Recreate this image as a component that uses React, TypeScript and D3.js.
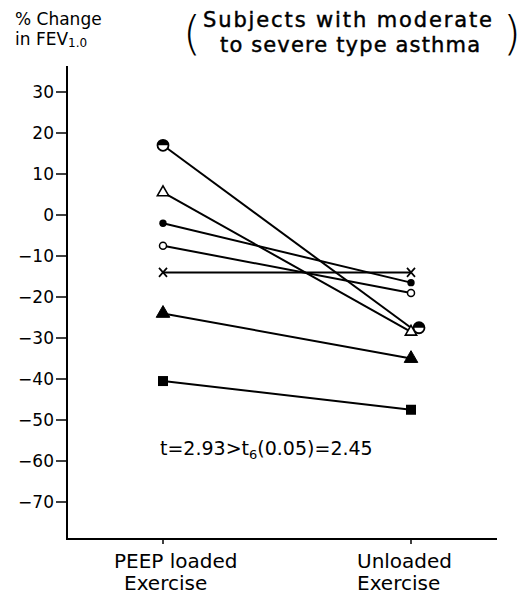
import React, { useEffect, useRef } from "react";
import * as d3 from "d3";

// conditions on the x axis
const conditions = ["PEEP loaded", "Unloaded"];
const conditionLabels = [
  ["PEEP loaded", "Exercise"],
  ["Unloaded", "Exercise"],
];
// one subject per marker type
const subjects = ["halfCircle", "triangleOpen", "dotFilled", "circleOpen", "cross", "triangleFilled", "square"];
const peepValues = [17, 5.5, -2, -7.5, -14, -24, -40.5];
const unloadedValues = [-27.5, -28.5, -16.5, -19, -14, -35, -47.5];
const yTicks = [30, 20, 10, 0, -10, -20, -30, -40, -50, -60, -70];

const FONT = "'DejaVu Sans', sans-serif";

function App() {
  const svgRef = useRef<SVGSVGElement>(null);

  useEffect(() => {
    const svg = d3.select(svgRef.current);
    svg.selectAll("*").remove();

    const y = d3.scaleLinear().domain([-70, 30]).range([502, 92]);
    const x = d3.scalePoint().domain(conditions).range([163, 411]);
    const axisX = 67;
    const axisY = 539;

    // axes
    svg.append("line").attr("x1", axisX).attr("x2", axisX).attr("y1", 66).attr("y2", axisY)
      .attr("stroke", "#000").attr("stroke-width", 2);
    svg.append("line").attr("x1", axisX - 1).attr("x2", 497).attr("y1", axisY).attr("y2", axisY)
      .attr("stroke", "#000").attr("stroke-width", 2);

    const yt = svg.append("g");
    yt.selectAll("line").data(yTicks).join("line")
      .attr("x1", axisX - 11).attr("x2", axisX).attr("y1", (d) => y(d)).attr("y2", (d) => y(d))
      .attr("stroke", "#000").attr("stroke-width", 1.5);
    yt.selectAll("text").data(yTicks).join("text")
      .attr("x", axisX - 13).attr("y", (d) => y(d)).attr("dy", "0.36em")
      .attr("text-anchor", "end").attr("font-family", FONT).attr("font-size", 17)
      .text((d) => (d < 0 ? "\u2212" + Math.abs(d) : String(d)));

    svg.selectAll(".xt").data(conditions).join("line").attr("class", "xt")
      .attr("x1", (d) => x(d)!).attr("x2", (d) => x(d)!).attr("y1", axisY).attr("y2", axisY + 5)
      .attr("stroke", "#000").attr("stroke-width", 1.5);

    const labelStarts = [[114, 124], [357, 357]];
    conditionLabels.forEach((lines, i) => {
      const t = svg.append("text").attr("font-family", FONT).attr("font-size", 20)
        .attr("text-anchor", "start");
      lines.forEach((l, j) => {
        t.append("tspan").attr("x", labelStarts[i][j]).attr("y", 568 + j * 22).text(l);
      });
    });

    // subject lines
    subjects.forEach((s, i) => {
      svg.append("line")
        .attr("x1", x(conditions[0])!).attr("y1", y(peepValues[i]))
        .attr("x2", x(conditions[1])!).attr("y2", y(unloadedValues[i]))
        .attr("stroke", "#000").attr("stroke-width", 2);
    });

    // markers
    const drawMarker = (type: string, cx: number, cy: number) => {
      const g = svg.append("g").attr("transform", `translate(${cx},${cy})`);
      if (type === "halfCircle") {
        g.append("circle").attr("r", 5.5).attr("fill", "#fff").attr("stroke", "#000").attr("stroke-width", 1.8);
        g.append("path").attr("d", d3.arc()({ innerRadius: 0, outerRadius: 5.5, startAngle: -Math.PI / 2, endAngle: Math.PI / 2 } as any)!)
          .attr("fill", "#000");
      } else if (type === "triangleOpen" || type === "triangleFilled") {
        const filled = type === "triangleFilled";
        g.append("path").attr("d", d3.symbol(d3.symbolTriangle, filled ? 80 : 55)()!)
          .attr("fill", filled ? "#000" : "#fff").attr("stroke", "#000").attr("stroke-width", filled ? 1 : 1.6);
      } else if (type === "dotFilled") {
        g.append("circle").attr("r", 3.7).attr("fill", "#000");
      } else if (type === "circleOpen") {
        g.append("circle").attr("r", 3.5).attr("fill", "#fff").attr("stroke", "#000").attr("stroke-width", 1.5);
      } else if (type === "cross") {
        g.append("path").attr("d", "M-4,-4.5L4,4.5M-4,4.5L4,-4.5").attr("stroke", "#000").attr("stroke-width", 1.7);
      } else if (type === "square") {
        g.append("rect").attr("x", -5).attr("y", -5).attr("width", 10).attr("height", 10).attr("fill", "#000");
      }
    };
    subjects.forEach((s, i) => {
      drawMarker(s, x(conditions[0])!, y(peepValues[i]));
      // the half-filled circle is nudged right where it meets the open triangle
      drawMarker(s, x(conditions[1])! + (s === "halfCircle" ? 8 : 0), y(unloadedValues[i]));
    });

    // y axis title
    const yl = svg.append("text").attr("font-family", FONT).attr("font-size", 17);
    yl.append("tspan").attr("x", 15).attr("y", 25).text("% Change");
    yl.append("tspan").attr("x", 15).attr("y", 45).text("in FEV");
    yl.append("tspan").attr("font-size", 12).attr("dy", 2).text("1.0");

    // panel title
    svg.append("text").attr("x", 183).attr("y", 49).attr("font-family", FONT).attr("font-size", 46)
      .attr("font-weight", 200).text("(");
    svg.append("text").attr("x", 521).attr("y", 49).attr("text-anchor", "end").attr("font-family", FONT)
      .attr("font-size", 46).attr("font-weight", 200).text(")");
    const tt = svg.append("text").attr("font-family", FONT).attr("font-size", 21)
      .attr("stroke", "#000").attr("stroke-width", 0.45);
    tt.append("tspan").attr("x", 203).attr("y", 27).attr("textLength", 289).text("Subjects with moderate");
    tt.append("tspan").attr("x", 220).attr("y", 52).attr("textLength", 260).text("to severe type asthma");

    // statistics note
    const st = svg.append("text").attr("x", 160).attr("y", 455).attr("font-family", FONT).attr("font-size", 19);
    st.append("tspan").text("t=2.93>t");
    st.append("tspan").attr("font-size", 13).attr("dy", 4).text("6");
    st.append("tspan").attr("dy", -4).text("(0.05)=2.45");
  }, []);

  return (
    <div>
      <svg ref={svgRef} width={525} height={595} style={{ position: "absolute", left: 0, top: 0, background: "#fff" }}></svg>
    </div>
  );
}

export default App;
